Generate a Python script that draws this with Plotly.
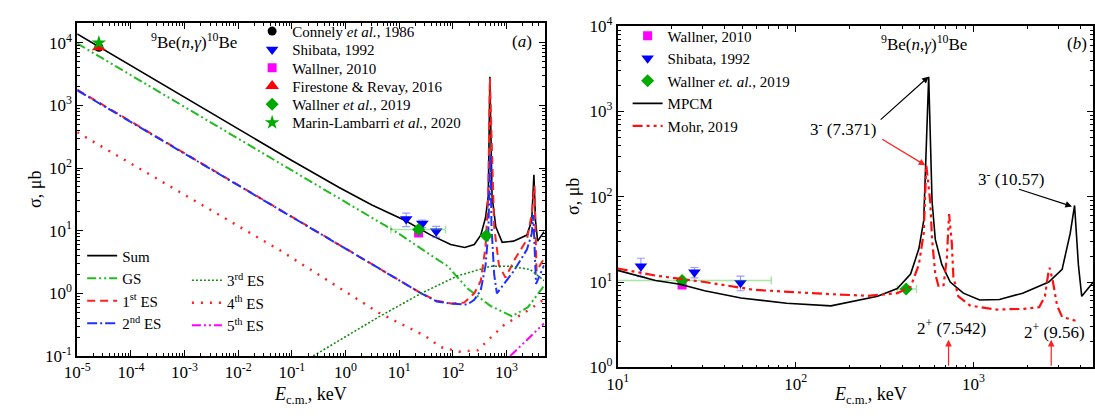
import math
import plotly.graph_objects as go

# ---------------- Panel (a): model curves, E in keV, sigma in microbarn ----------------
sum_E = [1e-5, 0.091, 0.76, 3.1, 12.9, 39, 91, 166, 251, 331, 407, 457, 490, 537, 631, 832,
         1350, 2400, 2950, 3240, 3470, 3800, 5000]
sum_S = [13800, 138, 49, 25.7, 14.5, 8.5, 6.0, 5.4, 6.0, 8.5, 16.2, 36, 2880, 36, 11.5, 6.5,
         6.8, 8.5, 14.5, 78, 14.5, 6.8, 9.6]

gs_E = [1e-5, 0.87, 10, 31.6, 81, 123, 186, 501, 1260, 2510, 5000]
gs_S = [9770, 30.9, 8.9, 4.57, 2.69, 1.78, 1.20, 0.63, 0.43, 0.60, 1.32]

es1_E = [1e-5, 25.7, 50, 93, 162, 251, 331, 407, 457, 490, 589, 724, 955, 1445, 2400, 2950,
         3310, 3470, 3630, 5000]
es1_S = [1780, 1.0, 0.76, 0.69, 0.71, 1.0, 1.58, 5.6, 36, 2750, 11.5, 2.8, 1.78, 3.55, 7.2,
         18.2, 52, 9.1, 2.24, 3.6]

es2_E = [1e-5, 25.7, 50, 100, 186, 251, 331, 407, 457, 501, 525, 589, 661, 1350, 2400, 2950,
         3160, 3550, 5000]
es2_S = [1740, 1.0, 0.74, 0.68, 0.66, 0.79, 1.12, 2.8, 9.1, 166, 11.5, 2.0, 1.0, 2.24, 5.0,
         8.9, 17.8, 1.41, 2.8]

es3_E = [0.25, 1.0, 4.17, 25.7, 123, 501, 1175, 2750, 4170, 5000]
es3_S = [0.1, 0.2, 0.42, 1.0, 1.9, 2.7, 2.7, 2.4, 1.78, 1.6]

es4_E = [1e-5, 0.059, 4.17, 30, 60, 132, 288, 891, 2750, 5000]
es4_S = [372, 4.9, 0.49, 0.21, 0.138, 0.117, 0.123, 0.31, 0.56, 0.8]

es5_E = [1175, 5000]
es5_S = [0.1, 0.33]

# ---------------- Panel (b): model curves ----------------
mpcm_E = [10, 16.3, 22.4, 30.8, 49.3, 89, 158, 206, 289, 373, 443, 493, 525, 560, 585, 610,
          664, 740, 877, 1084, 1400, 1890, 2650, 3150, 3500, 3700, 3890, 4060, 4340, 4720]
mpcm_S = [13.7, 10.4, 9.4, 7.9, 6.5, 5.65, 5.25, 5.85, 6.8, 8.4, 12.4, 24.5, 52.5, 2560, 88,
          31.6, 16.0, 10.0, 7.4, 6.15, 6.25, 7.4, 10.0, 14.1, 37.5, 79, 15.8, 6.8, 8.1, 10.0]

mohr_E = [10, 16.3, 30.8, 58.5, 148, 255, 373, 443, 493, 525, 543, 571, 585, 610, 637, 679,
          708, 729, 755, 771, 822, 955, 1343, 1890, 2340, 2520, 2630, 2680, 2790, 2950, 3150,
          3890]
mohr_S = [14.4, 11.9, 10.0, 8.1, 7.25, 6.9, 7.4, 8.8, 16.0, 37.5, 234, 88, 31.6, 12.4, 8.8,
          9.2, 19.0, 62.5, 29, 11.4, 6.8, 5.3, 4.76, 4.84, 5.06, 6.8, 12.4, 14.7, 10.4, 5.3,
          3.9, 3.44]

# ---------------- Experimental data ----------------
thermal_E = [2.53e-5]
connely_S = [8500]
firestone_S = [8500]
marin_S = [10000]

shibata_E = [13.5, 27, 49]
shibata_S = [15.3, 13.0, 9.8]
shibata_err = [3.7, 1.8, 1.9]

wallner2010_E = [23]
wallner2010_S = [9.2]

wallner2019_E = [23, 418]
wallner2019_S = [10.4, 8.3]
wallner2019_xminus = [16, 45]
wallner2019_xplus = [50, 60]

# resonance markers in panel (b)
res_labels = ["2<sup>+</sup> (7.542)", "2<sup>+</sup> (9.56)"]
res_E = [724, 2735]

# tick labels
xa_ticks = [1e-5, 1e-4, 1e-3, 1e-2, 1e-1, 1, 10, 100, 1000]
ya_ticks = [0.1, 1, 10, 100, 1000, 10000]
xb_ticks = [10, 100, 1000]
yb_ticks = [1, 10, 100, 1000, 10000]

def pow_labels(vals):
    return ["10<sup>%d</sup>" % round(math.log10(v)) for v in vals]

FONT = "Times New Roman, Liberation Serif, DejaVu Serif, serif"
fig = go.Figure()

def curve(x, y, name, color, dash, width, xa, ya, legend, show=True):
    fig.add_trace(go.Scatter(x=x, y=y, mode="lines", name=name, xaxis=xa, yaxis=ya,
                             line=dict(color=color, dash=dash, width=width),
                             legend=legend, showlegend=show))

def points(x, y, name, color, symbol, size, xa, ya, legend, show=True, err=None, xerr=None):
    kw = {}
    if err is not None:
        kw["error_y"] = dict(type="data", array=err, color="rgba(70,70,255,0.55)",
                             thickness=1.2, width=4)
    if xerr is not None:
        kw["error_x"] = dict(type="data", array=xerr[1], arrayminus=xerr[0],
                             color="rgba(60,200,60,0.45)", thickness=1.5, width=4)
    fig.add_trace(go.Scatter(x=x, y=y, mode="markers", name=name, xaxis=xa, yaxis=ya,
                             marker=dict(color=color, symbol=symbol, size=size,
                                         line=dict(width=0)),
                             legend=legend, showlegend=show, **kw))

# panel (a) curves
curve(sum_E, sum_S, "Sum", "black", "solid", 1.6, "x", "y", "legend2")
curve(gs_E, gs_S, "GS", "#22bb22", "9px,3px,2px,3px,2px,3px", 2, "x", "y", "legend2")
curve(es1_E, es1_S, "1<sup>st</sup> ES", "#ff2020", "8px,5px", 2, "x", "y", "legend2")
curve(es2_E, es2_S, "2<sup>nd</sup> ES", "#2030ff", "10px,3px,2px,3px", 2, "x", "y", "legend2")
curve(es3_E, es3_S, "3<sup>rd</sup> ES", "#138a13", "2px,2px", 1.6, "x", "y", "legend3")
curve(es4_E, es4_S, "4<sup>th</sup> ES", "#ff2020", "2px,7px", 2.4, "x", "y", "legend3")
curve(es5_E, es5_S, "5<sup>th</sup> ES", "#ff00ff", "9px,3px,2px,3px,2px,3px", 2, "x", "y", "legend3")

# panel (a) points, one legend box per entry (legend5..legend10)
points(thermal_E, connely_S, "Connely <i>et al.</i>, 1986", "black", "circle", 9, "x", "y", "legend5")
points(shibata_E, shibata_S, "Shibata, 1992", "#0000ff", "triangle-down", 11, "x", "y", "legend6",
       err=shibata_err)
points(wallner2010_E, wallner2010_S, "Wallner, 2010", "#ff00ff", "square", 9, "x", "y", "legend7")
points(thermal_E, firestone_S, "Firestone &amp; Revay, 2016", "#ff0000", "triangle-up", 12, "x", "y", "legend8")
points(wallner2019_E, wallner2019_S, "Wallner <i>et al.</i>, 2019", "#00aa00", "diamond", 10, "x", "y",
       "legend9", xerr=(wallner2019_xminus, wallner2019_xplus))
points(thermal_E, marin_S, "Marin-Lambarri <i>et al.</i>, 2020", "#00aa00", "star", 11, "x", "y", "legend10")

# panel (b)
points(wallner2010_E, wallner2010_S, "Wallner, 2010", "#ff00ff", "square", 9, "x2", "y2", "legend4")
points(shibata_E, shibata_S, "Shibata, 1992", "#0000ff", "triangle-down", 11, "x2", "y2", "legend4",
       err=shibata_err)
points(wallner2019_E, wallner2019_S, "Wallner <i>et. al.</i>, 2019", "#00aa00", "diamond", 10, "x2", "y2",
       "legend4", xerr=(wallner2019_xminus, wallner2019_xplus))
curve(mpcm_E, mpcm_S, "MPCM", "black", "solid", 1.6, "x2", "y2", "legend4")
curve(mohr_E, mohr_S, "Mohr, 2019", "#ff1010", "10px,4px,3px,4px,3px,4px", 2.2, "x2", "y2", "legend4")

axis_common = dict(type="log", tickmode="array",
                   showline=True, linecolor="black", linewidth=1.6, mirror="allticks",
                   ticks="inside", ticklen=6, tickwidth=1.2, tickcolor="black",
                   minor=dict(ticks="inside", ticklen=3, tickwidth=1, tickcolor="black",
                              dtick="D1"),
                   showgrid=False, zeroline=False,
                   tickfont=dict(family=FONT, size=17, color="black"))

leg_common = dict(bgcolor="rgba(0,0,0,0)", borderwidth=0, xanchor="left", yanchor="top",
                  font=dict(family=FONT, size=15, color="black"), tracegroupgap=0,
                  itemwidth=30)

H = 419
W = 1095
ann = []
def paper_text(x, y, text, size=16, angle=0):
    ann.append(dict(xref="paper", yref="paper", x=x / W, y=1 - y / H, text=text,
                    showarrow=False, xanchor="center", yanchor="middle", textangle=angle,
                    font=dict(family=FONT, size=size, color="black")))

paper_text(22, 187, "σ, μb", 18, -90)
paper_text(566, 195, "σ, μb", 18, -90)
paper_text(301, 405, "<i>E</i><sub>c.m.</sub>, keV", 18)
paper_text(868, 405, "<i>E</i><sub>c.m.</sub>, keV", 18)
paper_text(183, 31, "<sup>9</sup>Be(<i>n</i>,<i>γ</i>)<sup>10</sup>Be", 17)
paper_text(515, 31, "(<i>a</i>)", 17)
paper_text(922, 33, "<sup>9</sup>Be(<i>n</i>,<i>γ</i>)<sup>10</sup>Be", 17)
paper_text(1077, 33, "(<i>b</i>)", 17)

def arrow(head, tail, color):
    ann.append(dict(xref="x2", yref="y2", axref="x2", ayref="y2",
                    x=math.log10(head[0]), y=math.log10(head[1]),
                    ax=math.log10(tail[0]), ay=math.log10(tail[1]),
                    text="", showarrow=True, arrowhead=2, arrowsize=1.1, arrowwidth=1.2,
                    arrowcolor=color, standoff=0, startstandoff=0))

def data_text(x, y, text):
    ann.append(dict(xref="x2", yref="y2", x=math.log10(x), y=math.log10(y), text=text,
                    showarrow=False, xanchor="center", yanchor="middle",
                    font=dict(family=FONT, size=17, color="black")))

data_text(185, 640, "3<sup>-</sup> (7.371)")
arrow((560, 2560), (295, 775), "black")
arrow((536, 234), (301, 485), "#ff2020")
data_text(1625, 167, "3<sup>-</sup> (10.57)")
arrow((3580, 77), (1770, 124), "black")
for lab, e, yy in zip(res_labels, res_E, [3.0, 2.65]):
    data_text(e * 1.04, yy, lab)
    arrow((e, 2.1), (e, 1.0), "#ff2020")

legends = {}
row_y = [32, 51.3, 70.6, 89.9, 109.2, 128.5]
for i, yy in enumerate(row_y):
    legends["legend%d" % (i + 5)] = dict(leg_common, x=242 / W, y=1 - (yy - 29) / H)

fig.update_layout(
    width=W, height=H, margin=dict(l=0, r=0, t=0, b=0),
    paper_bgcolor="white", plot_bgcolor="white",
    xaxis=dict(axis_common, domain=[65 / W, 538 / W], range=[-5, 3.71], anchor="y",
               tickvals=xa_ticks, ticktext=pow_labels(xa_ticks)),
    yaxis=dict(axis_common, domain=[1 - 363 / H, 1 - 12 / H], range=[-1, 4.31], anchor="x",
               tickvals=ya_ticks, ticktext=pow_labels(ya_ticks)),
    xaxis2=dict(axis_common, domain=[612 / W, 1093 / W], range=[1, 3.672], anchor="y2",
                tickvals=xb_ticks, ticktext=pow_labels(xb_ticks)),
    yaxis2=dict(axis_common, domain=[1 - 375 / H, 1 - 15 / H], range=[0, 4], anchor="x2",
                tickvals=yb_ticks, ticktext=pow_labels(yb_ticks)),
    legend2=dict(leg_common, x=70 / W, y=1 - 240 / H),
    legend3=dict(leg_common, x=176 / W, y=1 - 266 / H),
    legend4=dict(leg_common, x=622 / W, y=1 - 8 / H),
    annotations=ann,
    showlegend=True,
    **legends,
)

fig.write_html("out.html")
